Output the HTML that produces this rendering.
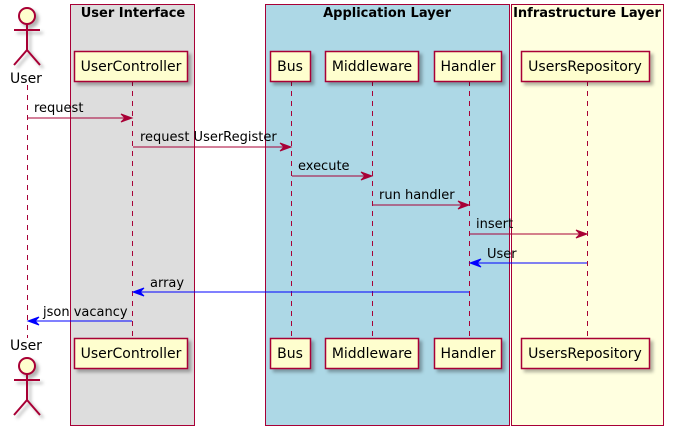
<!DOCTYPE html>
<html><head><style>body{margin:0;background:#fff}svg{display:block}</style></head><body>
<svg width="673" height="435" viewBox="0 0 673 435" xmlns="http://www.w3.org/2000/svg" font-family="DejaVu Sans, sans-serif">
<defs><filter id="s" x="-20%" y="-20%" width="150%" height="150%"><feDropShadow dx="3" dy="3" stdDeviation="1.5" flood-color="#000" flood-opacity="0.3"/></filter></defs>
<rect x="70.5" y="4.5" width="124" height="421" fill="#DDDDDD" stroke="#A80036"/>
<rect x="265.5" y="4.5" width="244" height="421" fill="#ADD8E6" stroke="#A80036"/>
<rect x="511.5" y="4.5" width="152" height="421" fill="#FFFFE0" stroke="#A80036"/>
<g font-weight="bold" font-size="13" text-anchor="middle" fill="#000">
<text x="133" y="17">User Interface</text><text x="387" y="17">Application Layer</text><text x="587" y="17">Infrastructure Layer</text></g>
<g stroke="#A80036" stroke-dasharray="5,5" stroke-width="1">
<line x1="27.5" y1="85" x2="27.5" y2="338"/><line x1="132.5" y1="81" x2="132.5" y2="338"/><line x1="291.5" y1="81" x2="291.5" y2="338"/><line x1="372.5" y1="81" x2="372.5" y2="338"/><line x1="469.5" y1="81" x2="469.5" y2="338"/><line x1="587.5" y1="81" x2="587.5" y2="338"/></g>
<g fill="#FEFECE" stroke="#A80036" stroke-width="1.5" filter="url(#s)">
<rect x="74.5" y="51.5" width="113" height="30"/><rect x="270.5" y="51.5" width="40" height="30"/><rect x="325.5" y="51.5" width="93" height="30"/><rect x="434.5" y="51.5" width="67" height="30"/><rect x="521.5" y="51.5" width="128" height="30"/>
<rect x="74.5" y="338.5" width="113" height="30"/><rect x="270.5" y="338.5" width="40" height="30"/><rect x="325.5" y="338.5" width="93" height="30"/><rect x="434.5" y="338.5" width="67" height="30"/><rect x="521.5" y="338.5" width="128" height="30"/>
</g>
<g font-size="14" text-anchor="middle" fill="#000">
<text x="131" y="71">UserController</text><text x="290" y="71">Bus</text><text x="372" y="71">Middleware</text><text x="468" y="71">Handler</text><text x="585" y="71">UsersRepository</text>
<text x="131" y="358">UserController</text><text x="290" y="358">Bus</text><text x="372" y="358">Middleware</text><text x="468" y="358">Handler</text><text x="585" y="358">UsersRepository</text>
<text x="26" y="83">User</text><text x="26" y="350">User</text></g>
<g fill="#FEFECE" stroke="#A80036" stroke-width="2" filter="url(#s)">
<circle cx="27" cy="16" r="8"/><path d="M27 24V50M14 30H40M27 50L14 65M27 50L40 65" fill="none"/>
<circle cx="27" cy="366" r="8"/><path d="M27 374V400M14 380H40M27 400L14 415M27 400L40 415" fill="none"/>
</g>
<g stroke="#A80036" fill="#A80036">
<line x1="28" y1="118" x2="130" y2="118"/><path d="M121 114L132 118L121 122L125 118Z"/>
<line x1="133" y1="147" x2="289" y2="147"/><path d="M280 143L291 147L280 151L284 147Z"/>
<line x1="292" y1="176" x2="370" y2="176"/><path d="M361 172L372 176L361 180L365 176Z"/>
<line x1="373" y1="205" x2="467" y2="205"/><path d="M458 201L469 205L458 209L462 205Z"/>
<line x1="470" y1="234" x2="585" y2="234"/><path d="M576 230L587 234L576 238L580 234Z"/>
</g>
<g stroke="#0000FF" fill="#0000FF">
<line x1="587" y1="263" x2="472" y2="263"/><path d="M481 259L470 263L481 267L477 263Z"/>
<line x1="469" y1="292" x2="135" y2="292"/><path d="M144 288L133 292L144 296L140 292Z"/>
<line x1="132" y1="321" x2="30" y2="321"/><path d="M39 317L28 321L39 325L35 321Z"/>
</g>
<g font-size="13" fill="#000">
<text x="34" y="112">request</text><text x="140" y="141">request UserRegister</text><text x="298" y="170">execute</text><text x="379" y="199">run handler</text><text x="476" y="228">insert</text><text x="487" y="258">User</text><text x="150" y="287">array</text><text x="43" y="316">json vacancy</text></g>
</svg>
</body></html>
